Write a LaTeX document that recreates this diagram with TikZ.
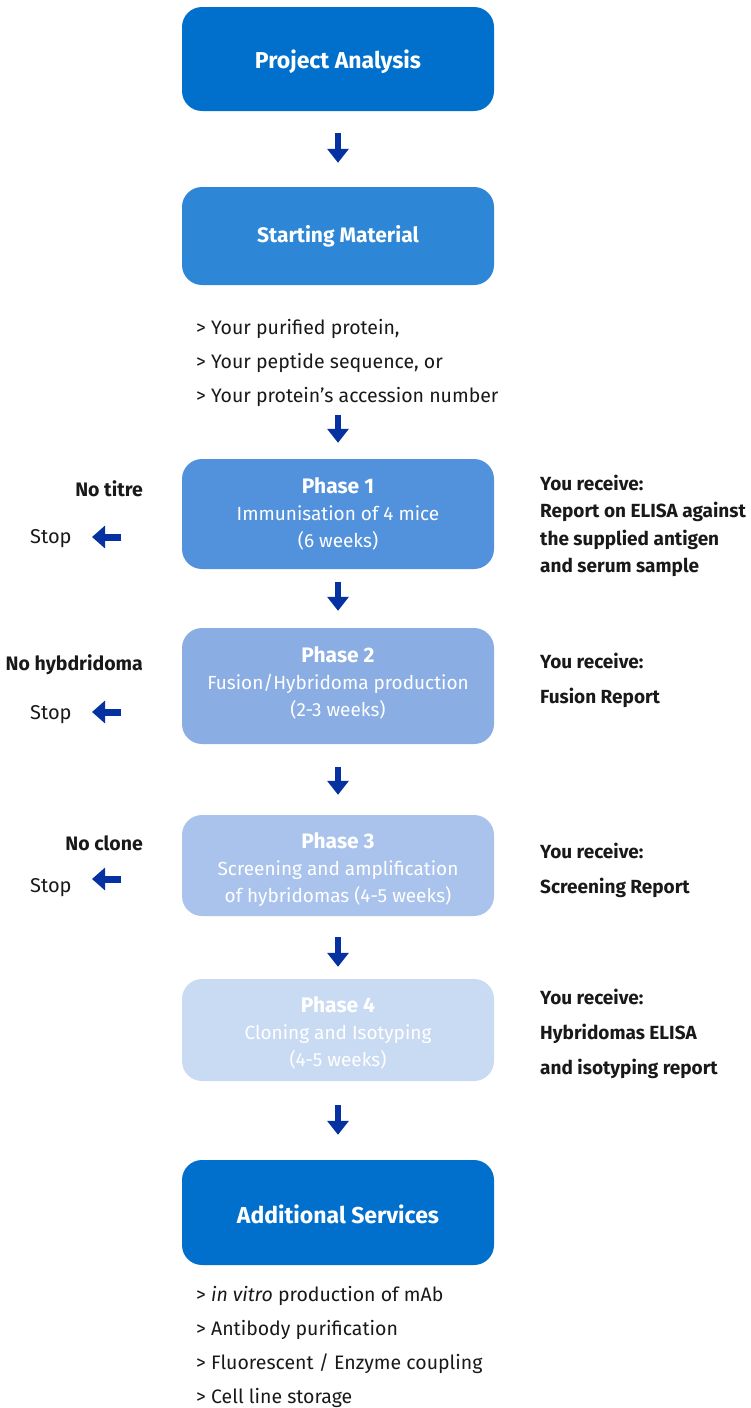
\documentclass[tikz,border=0pt]{standalone}
\usepackage{fontspec}
\setmainfont{Fira Sans}
\usetikzlibrary{arrows.meta}
\definecolor{cDark}{RGB}{0,112,204}
\definecolor{cStart}{RGB}{46,134,214}
\definecolor{cP1}{RGB}{82,146,220}
\definecolor{cP2}{RGB}{138,173,228}
\definecolor{cP3}{RGB}{169,195,236}
\definecolor{cP4}{RGB}{201,218,243}
\definecolor{cArrow}{RGB}{5,50,160}
\definecolor{cText}{RGB}{25,25,25}
\begin{document}
\begin{tikzpicture}[x=1pt,y=-1pt,
  box/.style={rounded corners=20pt, minimum width=312pt, inner sep=0pt},
  boxtext/.style={text=white, align=center, inner sep=0pt},
  bigtitle/.style={font=\fontsize{23}{27}\selectfont\bfseries},
  phasetext/.style={font=\fontsize{19}{27}\selectfont},
  darr/.style={draw=cArrow, line width=6.5pt, -{Triangle[width=21pt,length=14pt]}},
  larr/.style={draw=cArrow, line width=7pt, -{Triangle[width=22pt,length=13pt]}},
  blabel/.style={font=\fontsize{19.5}{27}\selectfont\bfseries, text=cText, inner sep=0pt},
  rlabel/.style={font=\fontsize{19}{35}\selectfont\bfseries, text=cText, inner sep=0pt, align=left, anchor=west},
  stoplabel/.style={font=\fontsize{20}{24}\selectfont, text=cText, inner sep=0pt, anchor=west},
  listtext/.style={font=\fontsize{19.5}{34}\selectfont, text=cText, inner sep=0pt, align=left, anchor=west}
]
\useasboundingbox (0,0) rectangle (751,1408);

% boxes
\node[box, fill=cDark, minimum height=104pt] (pa) at (338,59) {};
\node[box, fill=cStart, minimum height=98pt] (sm) at (338,236) {};
\node[box, fill=cP1, minimum height=110pt] (p1) at (338,514) {};
\node[box, fill=cP2, minimum height=116pt] (p2) at (338,686) {};
\node[box, fill=cP3, minimum height=101pt] (p3) at (338,865.5) {};
\node[box, fill=cP4, minimum height=102pt] (p4) at (338,1030) {};
\node[box, fill=cDark, minimum height=105pt] (as) at (338,1212.5) {};

% box texts
\node[boxtext, bigtitle] (pat) at ([yshift=-3pt]pa.center) {Project Analysis};
\node[boxtext, font=\fontsize{21}{24}\selectfont\bfseries] (smt) at ([yshift=-0.5pt]sm.center) {Starting Material};
\node[boxtext, phasetext] (p1t) at (p1.center) {\fontsize{21}{27}\selectfont\textbf{Phase 1}\\Immunisation of 4 mice\\(6 weeks)};
\node[boxtext, phasetext] (p2t) at ([yshift=3pt]p2.center) {\fontsize{21}{27}\selectfont\textbf{Phase 2}\\Fusion/Hybridoma production\\(2-3 weeks)};
\node[boxtext, phasetext] (p3t) at ([yshift=-4pt]p3.center) {\fontsize{21}{27}\selectfont\textbf{Phase 3}\\Screening and amplification\\of hybridomas (4-5 weeks)};
\node[boxtext, phasetext] (p4t) at ([yshift=-2.5pt]p4.center) {\fontsize{21}{27}\selectfont\textbf{Phase 4}\\Cloning and Isotyping\\(4-5 weeks)};
\node[boxtext, bigtitle] (ast) at ([yshift=-2pt]as.center) {Additional Services};

% lists
\node[listtext] (sml) at (196,362.5) {> Your purified protein,\\> Your peptide sequence, or\\> Your protein's accession number};
\node[listtext] (asl) at (196,1347) {> \textit{in vitro} production of mAb\\> Antibody purification\\> Fluorescent / Enzyme coupling\\> Cell line storage};

% down arrows
\draw[darr, shorten <=22pt, shorten >=24pt] (pa) -- (sm);
\draw[darr, shorten <=130pt, shorten >=16pt] (sm) -- (p1);
\draw[darr, shorten <=13pt, shorten >=17pt] (p1) -- (p2);
\draw[darr, shorten <=23pt, shorten >=20pt] (p2) -- (p3);
\draw[darr, shorten <=21pt, shorten >=12pt] (p3) -- (p4);
\draw[darr, shorten <=24pt, shorten >=25pt] (p4) -- (as);

% left side
\node[blabel, anchor=east] (nt) at (143,489) {No titre};
\node[stoplabel] (s1) at (30,539) {Stop};
\coordinate (t1) at (92,537);
\draw[larr, shorten <=61pt] (p1.west |- t1) -- (t1);

\node[blabel, anchor=east] (nh) at (143,665) {No hybdridoma};
\node[stoplabel] (s2) at (30,715) {Stop};
\coordinate (t2) at (92,712);
\draw[larr, shorten <=61pt] (p2.west |- t2) -- (t2);

\node[blabel, anchor=east] (nc) at (143,843) {No clone};
\node[stoplabel] (s3) at (30,888) {Stop};
\coordinate (t3) at (92,879);
\draw[larr, shorten <=61pt] (p3.west |- t3) -- (t3);

% right side
\node[rlabel, font=\fontsize{19}{27.3}\selectfont\bfseries] (r1) at (540,526) {You receive:\\Report on ELISA against\\the supplied antigen\\and serum sample};
\node[rlabel] (r2) at (540,680) {You receive:\\Fusion Report};
\node[rlabel] (r3) at (540,870) {You receive:\\Screening Report};
\node[rlabel] (r4) at (540,1033.5) {You receive:\\Hybridomas ELISA\\and isotyping report};
\end{tikzpicture}
\end{document}
